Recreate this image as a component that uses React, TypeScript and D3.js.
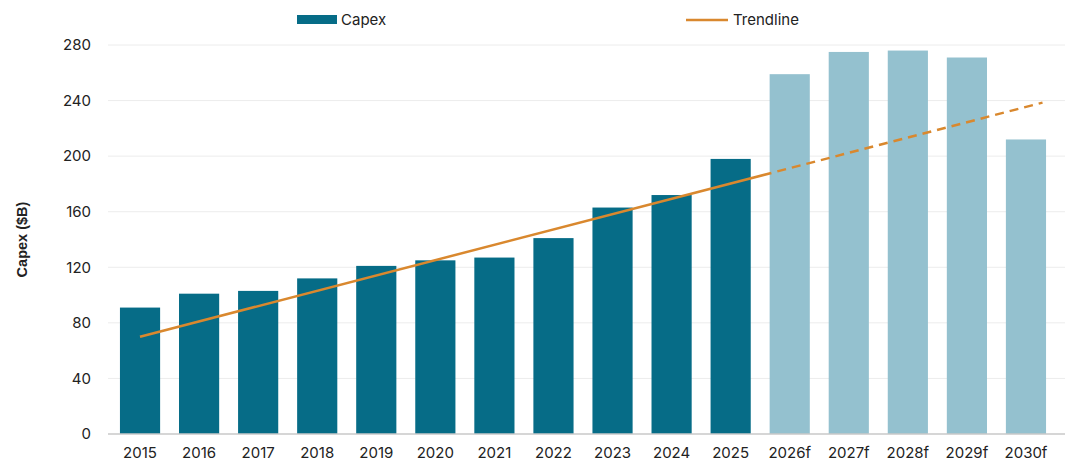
import React from "react";
import * as d3 from "d3";

const categories = ["2015","2016","2017","2018","2019","2020","2021","2022","2023","2024","2025","2026f","2027f","2028f","2029f","2030f"];
const capex = [91,101,103,112,121,125,127,141,163,172,198,259,275,276,271,212];
const isForecast = [false,false,false,false,false,false,false,false,false,false,false,true,true,true,true,true];
const yTicks = [0,40,80,120,160,200,240,280];
// trendline: linear fit expressed at category index positions
const trendStartIndex = 0;
const trendSolidEndIndex = 10.69;
const trendEndIndex = 15.28;
const trendStartValue = 70;
const trendSlope = 11.03;

const W = 1071, H = 462;
const FONT = "Inter, 'Noto Sans', sans-serif";

export default function App() {
  const x = d3.scaleBand<string>().domain(categories).range([110.5, 1055.5]).paddingInner(0.32).paddingOuter(0.16);
  const y = d3.scaleLinear().domain([0, 280]).range([434, 45]);
  const step = x.step();
  const c0 = (x(categories[0]) as number) + x.bandwidth() / 2;
  const xi = d3.scaleLinear().domain([0, 1]).range([c0, c0 + step]);
  const tv = (i: number) => trendStartValue + trendSlope * i;
  const line = d3.line<number>().x(i => xi(i)).y(i => y(tv(i)));

  return (
    <svg width={W} height={H} style={{ position: "absolute", left: 0, top: 0, background: "#fff" }} fontFamily={FONT}>
      {yTicks.map(t => (
        <g key={t}>
          {t > 0 && <line x1={108} x2={1065} y1={y(t)} y2={y(t)} stroke="#ececec" strokeWidth={1} />}
          <text x={91} y={y(t)} dy="0.35em" textAnchor="end" fontSize={15} fill="#222">{t}</text>
        </g>
      ))}
      {categories.map((c, i) => (
        <rect key={c} x={x(c)} y={y(capex[i])} width={x.bandwidth()} height={y(0) - y(capex[i])}
          fill={isForecast[i] ? "#94C1CF" : "#066C87"} />
      ))}
      <line x1={108} x2={1065} y1={y(0)} y2={y(0)} stroke="#c8c8c8" strokeWidth={1.5} />
      {categories.map(c => (
        <text key={c} x={(x(c) as number) + x.bandwidth() / 2} y={458} textAnchor="middle" fontSize={15} fill="#222">{c}</text>
      ))}
      <path d={line([trendStartIndex, trendSolidEndIndex]) || ""} fill="none" stroke="#D9882E" strokeWidth={2.5} />
      <path d={line([trendSolidEndIndex + 0.1, trendEndIndex]) || ""} fill="none" stroke="#D9882E" strokeWidth={2.5} strokeDasharray="9,6" />
      <text transform={`translate(22,${y(140)}) rotate(-90)`} textAnchor="middle" dy="0.35em" fontSize={14.5} fontWeight={700} fill="#222"
        fontFamily="'Liberation Sans Narrow', 'Liberation Sans', Arial, sans-serif">Capex ($B)</text>
      <rect x={297} y={15} width={40} height={9} fill="#066C87" />
      <text x={341} y={20} dy="0.35em" fontSize={15} fill="#222">Capex</text>
      <line x1={686} x2={728} y1={20} y2={20} stroke="#D9882E" strokeWidth={2.5} />
      <text x={733} y={20} dy="0.35em" fontSize={15} fill="#222">Trendline</text>
    </svg>
  );
}
